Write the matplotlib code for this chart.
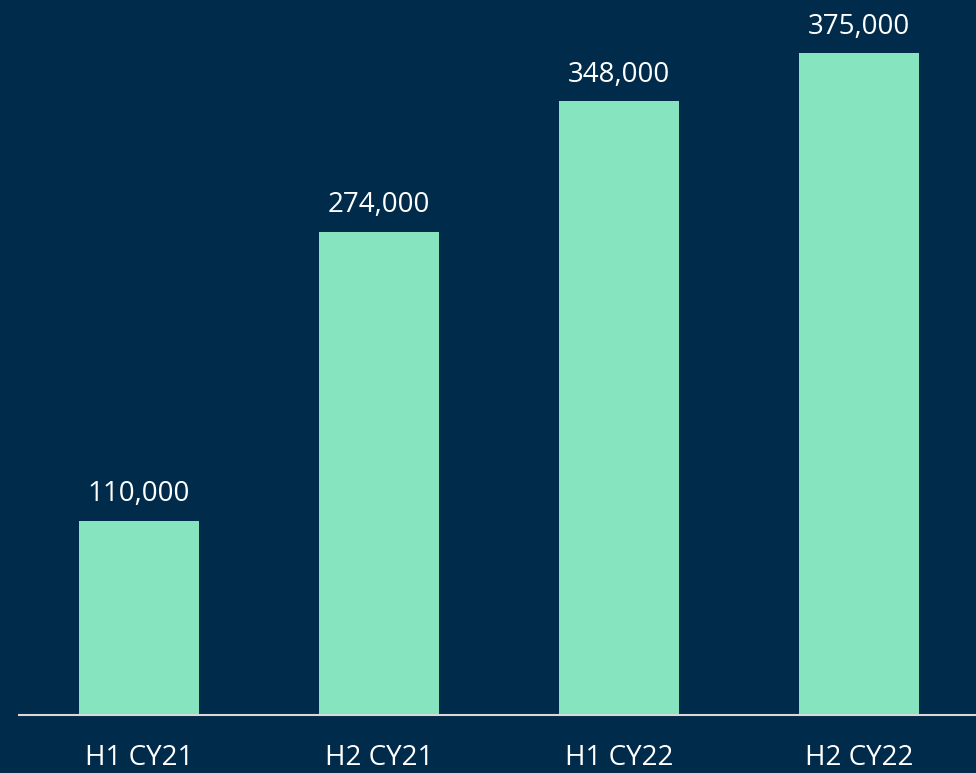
import matplotlib
matplotlib.use("Agg")
import matplotlib.pyplot as plt

categories = ["H1 CY21", "H2 CY21", "H1 CY22", "H2 CY22"]
values = [110000, 274000, 348000, 375000]

BG = "#002B4A"
BAR = "#86E4BF"

plt.rcParams['font.family'] = ['Open Sans', 'DejaVu Sans']

W, H = 976, 773
fig = plt.figure(figsize=(W / 100, H / 100), dpi=100, facecolor=BG)
ax = fig.add_axes([19 / W, 58 / H, 960 / W, 715 / H])
ax.set_facecolor(BG)

x = range(len(categories))
bars = ax.bar(x, values, width=0.5, color=BAR, zorder=2)
ax.set_xlim(-0.5, 3.5)
ax.set_ylim(0, 405300)

for xi, v in zip(x, values):
    ax.annotate(f"{v:,}", (xi, v), xytext=(0, 9), textcoords="offset points",
                ha="center", va="bottom", color="white", fontsize=20)

for s in ["top", "right", "left"]:
    ax.spines[s].set_visible(False)
ax.spines["bottom"].set_color("#D9D9D9")
ax.spines["bottom"].set_linewidth(1.5)
ax.spines["bottom"].set_zorder(3)
ax.set_yticks([])
ax.set_xticks(list(x))
ax.set_xticklabels(categories, color="white", fontsize=20)
ax.tick_params(axis="x", length=0, pad=21)

fig.savefig("out.png", dpi=100, facecolor=BG)
